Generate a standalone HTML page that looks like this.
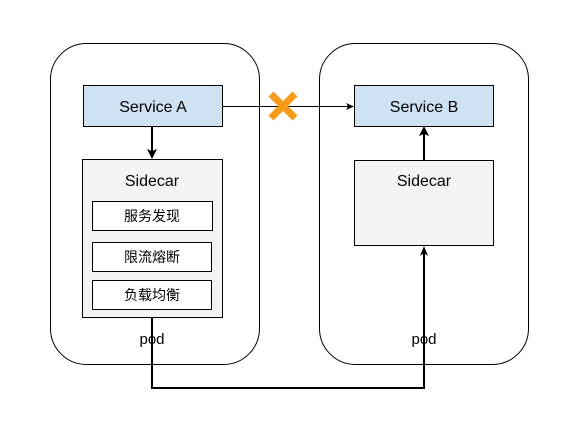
<!DOCTYPE html>
<html><head><meta charset="utf-8"><style>body{margin:0;background:#fff}</style></head><body>
<svg width="569" height="441" xmlns="http://www.w3.org/2000/svg" font-family="Liberation Sans, Noto Sans CJK SC, sans-serif">
<rect x="50.5" y="43.5" width="209" height="321" rx="36" fill="#fff" stroke="#000"/>
<rect x="319.5" y="43.5" width="209" height="321" rx="36" fill="#fff" stroke="#000"/>
<text x="152" y="344" font-size="15" text-anchor="middle">pod</text>
<text x="424" y="344" font-size="15" text-anchor="middle">pod</text>
<rect x="83.5" y="85.5" width="139" height="41" fill="#cfe2f3" stroke="#000"/>
<text x="153" y="112" font-size="16" text-anchor="middle">Service A</text>
<rect x="354.5" y="85.5" width="139" height="41" fill="#cfe2f3" stroke="#000"/>
<text x="424" y="112" font-size="16" text-anchor="middle">Service B</text>
<rect x="82.5" y="159.5" width="140" height="158" fill="#f3f3f3" stroke="#000"/>
<text x="152" y="186" font-size="16" text-anchor="middle">Sidecar</text>
<rect x="92.5" y="201.5" width="120" height="29" fill="#fff" stroke="#000"/>
<text x="152" y="221" font-size="14" text-anchor="middle">服务发现</text>
<rect x="92.5" y="242.5" width="119" height="29" fill="#fff" stroke="#000"/>
<text x="152" y="262" font-size="14" text-anchor="middle">限流熔断</text>
<rect x="92.5" y="280.5" width="119" height="29" fill="#fff" stroke="#000"/>
<text x="152" y="300" font-size="14" text-anchor="middle">负载均衡</text>
<rect x="354.5" y="160.5" width="139" height="85" fill="#f3f3f3" stroke="#000"/>
<text x="424" y="186" font-size="16" text-anchor="middle">Sidecar</text>
<line x1="222" y1="106.5" x2="348" y2="106.5" stroke="#000"/>
<path d="M354 106.5 L346 103 L348 106.5 L346 110 Z" fill="#000"/>
<line x1="152" y1="127" x2="152" y2="151" stroke="#000" stroke-width="2"/>
<path d="M152 159 L147 149 L152 151 L157 149 Z" fill="#000"/>
<line x1="424" y1="160" x2="424" y2="134" stroke="#000" stroke-width="2"/>
<path d="M424 126 L419 136 L424 134 L429 136 Z" fill="#000"/>
<path d="M152 318 V388 H424 V252" fill="none" stroke="#000" stroke-width="2"/>
<path d="M424 246 L420 256 L424 253 L428 256 Z" fill="#000"/>
<g stroke="#f79b1b" stroke-width="7"><line x1="271" y1="94" x2="295" y2="118"/><line x1="295" y1="94" x2="271" y2="118"/></g>
</svg>
</body></html>
